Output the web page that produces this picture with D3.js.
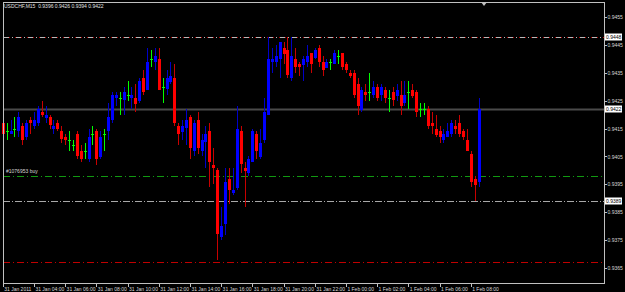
<!DOCTYPE html>
<html>
<head>
<meta charset="utf-8">
<script src="https://cdn.jsdelivr.net/npm/d3@7"></script>
<style>
body { margin: 0; background: #000; }
svg { display: block; font-family: "Liberation Sans", Arial, sans-serif; }
</style>
</head>
<body>
<div id="chart"></div>
<script>
// USDCHF M15, 31 Jan 02:00 .. 1 Feb 08:30 (prices)
var opens = [.9417,.9414,.9413,.9415,.9414,.9416,.9412,.9418,.9416,.9417,
  .9421,.9419,.9419,.9415,.9417,.9414,.9412,.9411,.9409,.9413,
  .9407,.9407,.9404,.9413,.9414,.9405,.9413,.9414,.9418,.9426,
  .9426,.9425,.9427,.9426,.9426,.9425,.9433,.9429,.9440,.9439,
  .9440,.9430,.9429,.9432,.9433,.9416,.9414,.9415,.9419,.9407,
  .9418,.9407,.9410,.9414,.9402,.9400,.9376,.9381,.9397,.9392,
  .9394,.9414,.9401,.9399,.9403,.9413,.9405,.9411,.9420,.9439,
  .9439,.9440,.9444,.9443,.9433,.9440,.9438,.9438,.9439,.9442,
  .9440,.9444,.9439,.9437,.9439,.9438,.9441,.9442,.9438,.9435,
  .9435,.9431,.9422,.9428,.9428,.9427,.9430,.9427,.9429,.9426,
  .9428,.9427,.9427,.9424,.9428,.9429,.9428,.9422,.9422,.9422,
  .9417,.9415,.9414,.9411,.9412,.9413,.9416,.9417,.9414,.9411,
  .9406,.9397,.9396];
var highs = [.9419,.9417,.9418,.9419,.9421,.9417,.9418,.9419,.9421,.9423,
  .9425,.9423,.9420,.9418,.9418,.9416,.9413,.9414,.9411,.9414,
  .9409,.9410,.9415,.9416,.9415,.9414,.9415,.9424,.9428,.9428,
  .9428,.9430,.9432,.9430,.9431,.9433,.9436,.9444,.9443,.9444,
  .9444,.9433,.9436,.9439,.9438,.9417,.9418,.9422,.9420,.9418,
  .9421,.9413,.9416,.9417,.9408,.9401,.9387,.9401,.9401,.9401,
  .9423,.9416,.9403,.9405,.9415,.9414,.9415,.9426,.9448,.9444,
  .9445,.9446,.9446,.9448,.9448,.9444,.9439,.9441,.9445,.9442,
  .9444,.9445,.9441,.9440,.9440,.9443,.9443,.9442,.9439,.9436,
  .9436,.9433,.9430,.9431,.9435,.9432,.9431,.9431,.9430,.9429,
  .9430,.9431,.9432,.9432,.9432,.9431,.9429,.9424,.9424,.9423,
  .9421,.9420,.9416,.9415,.9417,.9418,.9418,.9420,.9415,.9415,
  .9407,.9398,.9426];
var lows = [.9412,.9411,.9413,.9412,.9412,.9409,.9411,.9413,.9415,.9416,
  .9419,.9417,.9415,.9413,.9414,.9410,.9409,.9407,.9407,.9404,
  .9403,.9404,.9403,.9409,.9402,.9404,.9407,.9411,.9417,.9423,
  .9420,.9420,.9425,.9422,.9421,.9424,.9427,.9429,.9437,.9436,
  .9429,.9424,.9427,.9431,.9416,.9409,.9411,.9409,.9404,.9405,
  .9406,.9405,.9401,.9394,.9395,.9368,.9375,.9377,.9388,.9391,
  .9393,.9399,.9387,.9398,.9403,.9404,.9404,.9410,.9420,.9435,
  .9437,.9433,.9438,.9433,.9432,.9435,.9434,.9432,.9437,.9435,
  .9440,.9437,.9434,.9437,.9436,.9438,.9438,.9436,.9435,.9433,
  .9426,.9420,.9421,.9425,.9425,.9426,.9425,.9425,.9424,.9421,
  .9423,.9425,.9420,.9423,.9422,.9426,.9419,.9419,.9420,.9415,
  .9413,.9412,.9410,.9410,.9412,.9412,.9413,.9412,.9411,.9407,
  .9394,.9389,.9394];
var closes = [.9413,.9414,.9414,.9415,.9419,.9411,.9417,.9417,.9418,.9422,
  .9420,.9420,.9416,.9416,.9415,.9411,.9411,.9411,.9409,.9405,
  .9404,.9407,.9412,.9413,.9404,.9412,.9413,.9419,.9427,.9427,
  .9426,.9428,.9427,.9427,.9424,.9432,.9428,.9439,.9440,.9441,
  .9429,.9430,.9433,.9434,.9417,.9413,.9416,.9418,.9408,.9417,
  .9408,.9411,.9413,.9403,.9401,.9377,.9380,.9396,.9393,.9393,
  .9415,.9402,.9400,.9404,.9414,.9407,.9410,.9421,.9440,.9440,
  .9441,.9446,.9442,.9434,.9441,.9437,.9437,.9440,.9441,.9438,
  .9443,.9439,.9436,.9439,.9439,.9442,.9441,.9437,.9436,.9434,
  .9427,.9423,.9429,.9427,.9428,.9430,.9426,.9430,.9426,.9426,
  .9425,.9429,.9423,.9427,.9428,.9427,.9421,.9422,.9422,.9416,
  .9416,.9413,.9412,.9413,.9414,.9417,.9415,.9413,.9412,.9407,
  .9396,.9395,.9422];

var xTickBars = [0, 8, 16, 24, 32, 40, 48, 56, 64, 72, 80, 88, 96, 104, 112, 120];
var xLabels = ["31 Jan 2011", "31 Jan 04:00", "31 Jan 06:00", "31 Jan 08:00", "31 Jan 10:00",
  "31 Jan 12:00", "31 Jan 14:00", "31 Jan 16:00", "31 Jan 18:00", "31 Jan 20:00",
  "31 Jan 22:00", "1 Feb 00:00", "1 Feb 02:00", "1 Feb 04:00", "1 Feb 06:00", "1 Feb 08:00"];
var yTicks = [0.9455, 0.9445, 0.9435, 0.9425, 0.9415, 0.9405, 0.9395, 0.9385, 0.9375, 0.9365];

// horizontal order / price lines
var tpLevel = 0.9448, bidLevel = 0.9422, buyLevel = 0.9398, slLevel = 0.9389, lowLevel = 0.9367;
var titleText = "USDCHF,M15  0.9396 0.9426 0.9394 0.9422";
var orderText = "#1076953 buy";

var W = 625, H = 292;
var plot = { left: 3, right: 604, top: 2, bottom: 283 };

var svg = d3.select("#chart").append("svg")
    .attr("width", W).attr("height", H)
    .style("background", "#000");

var x = d3.scaleLinear().domain([0, 122]).range([2.7, 2.7 + 3.9 * 122]);
var y = d3.scaleLinear().domain([0.9455, 0.9365]).range([17, 268]);

svg.append("clipPath").attr("id", "clip")
    .append("rect")
    .attr("x", 0).attr("y", plot.top)
    .attr("width", plot.right).attr("height", plot.bottom - plot.top);

var g = svg.append("g").attr("clip-path", "url(#clip)");

// level lines
function hline(level, color, dash, width) {
    g.append("line")
        .attr("x1", plot.left).attr("x2", plot.right)
        .attr("y1", Math.round(y(level)) + 0.5).attr("y2", Math.round(y(level)) + 0.5)
        .attr("stroke", color).attr("stroke-width", width || 1)
        .attr("stroke-dasharray", dash);
}
hline(tpLevel, "#b8b8b8", "7,2,1,2");
hline(tpLevel, "#b00000", "1,5,1,5", 1);
hline(bidLevel, "#4a4a4a", null, 2);
hline(buyLevel, "#119911", "7,3,1,3");
hline(slLevel, "#a8a8a8", "7,2,1,2");
hline(lowLevel, "#c00000", "7,3,1,3");

g.append("text")
    .attr("x", 6).attr("y", y(buyLevel) - 3)
    .attr("fill", "#d8d8d8").attr("font-size", 5)
    .text(orderText);

// candles
var bars = d3.range(opens.length).map(function(i) {
    return { i: i, o: opens[i], h: highs[i], l: lows[i], c: closes[i] };
});
function barColor(d) {
    if (d.c > d.o) return "#0000ff";
    if (d.c < d.o) return "#ff0000";
    return "#00ff00";
}

var candles = g.selectAll(".candle").data(bars).enter()
    .append("g").attr("class", "candle")
    .attr("shape-rendering", "crispEdges");

candles.append("line")
    .attr("x1", function(d) { return Math.round(x(d.i)) + 0.5; })
    .attr("x2", function(d) { return Math.round(x(d.i)) + 0.5; })
    .attr("y1", function(d) { return y(d.h); })
    .attr("y2", function(d) { return y(d.l); })
    .attr("stroke", function(d) { return d.c == d.o ? "#00ff00" : d.c > d.o ? "#0000c8" : "#c80000"; });

candles.append("rect")
    .attr("x", function(d) { return Math.round(x(d.i)) - 1; })
    .attr("width", 3)
    .attr("y", function(d) { return Math.round(y(Math.max(d.o, d.c))); })
    .attr("height", function(d) { return Math.max(1, Math.round(Math.abs(y(d.o) - y(d.c)))); })
    .attr("fill", barColor);

// frame
svg.append("rect")
    .attr("x", plot.left + 0.5).attr("y", plot.top + 0.5)
    .attr("width", plot.right - plot.left).attr("height", plot.bottom - plot.top)
    .attr("fill", "none").attr("stroke", "#c0c0c0")
    .attr("shape-rendering", "crispEdges");

// chart shift marker
svg.append("path")
    .attr("d", "M481,2 L487,2 L484,6 Z")
    .attr("fill", "#c0c0c0");

// title
svg.append("text")
    .attr("x", 4).attr("y", 8)
    .attr("fill", "#e0e0e0").attr("font-size", 5)
    .style("white-space", "pre")
    .text(titleText);

// axes
var xAxis = d3.axisBottom(x)
    .tickValues(xTickBars)
    .tickFormat(function(d, i) { return xLabels[i]; })
    .tickSize(3).tickPadding(1);
var gx = svg.append("g")
    .attr("transform", "translate(0," + (plot.bottom + 0.5) + ")")
    .call(xAxis);
gx.select(".domain").remove();
gx.selectAll("line").attr("stroke", "#c0c0c0").attr("shape-rendering", "crispEdges");
gx.selectAll("text")
    .attr("fill", "#d8d8d8").attr("font-size", 5)
    .attr("text-anchor", "start").attr("dx", 1).attr("y", 4);

var yAxis = d3.axisRight(y)
    .tickValues(yTicks)
    .tickFormat(d3.format(".4f"))
    .tickSize(2).tickPadding(1);
var gy = svg.append("g")
    .attr("transform", "translate(" + (plot.right + 0.5) + ",0)")
    .call(yAxis);
gy.select(".domain").remove();
gy.selectAll("line").attr("stroke", "#c0c0c0").attr("shape-rendering", "crispEdges");
gy.selectAll("text").attr("fill", "#d8d8d8").attr("font-size", 5);

// boxed price labels
[tpLevel, bidLevel, slLevel].forEach(function(p) {
    var yy = Math.round(y(p));
    svg.append("rect")
        .attr("x", 605).attr("y", yy - 3.5)
        .attr("width", 17).attr("height", 7)
        .attr("fill", "#ffffff");
    svg.append("text")
        .attr("x", 606).attr("y", yy + 2)
        .attr("fill", "#000").attr("font-size", 5)
        .text(d3.format(".4f")(p));
});
</script>
</body>
</html>
